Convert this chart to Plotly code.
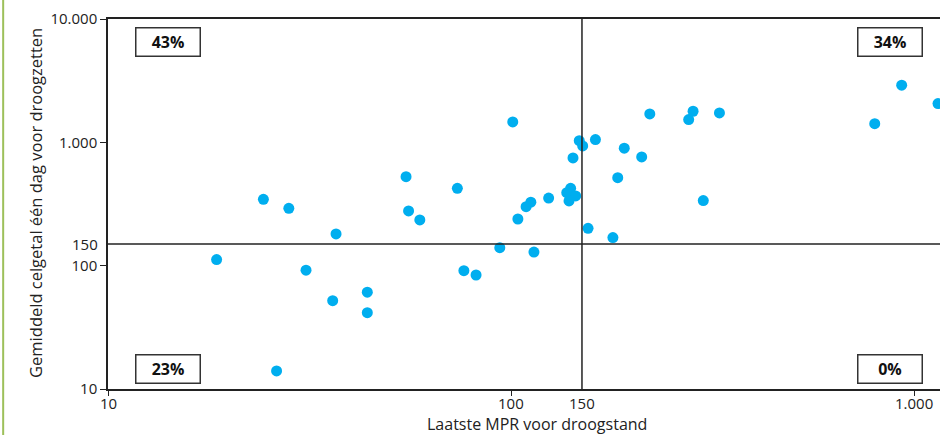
import math
import plotly.graph_objects as go

# Laatste MPR voor droogstand (x) and gemiddeld celgetal één dag voor droogzetten (y)
mpr = [18.6, 24.3, 26.2, 28.1, 31.0, 36.1, 36.8, 44.0, 44.0, 54.9,
       55.7, 59.4, 73.6, 76.4, 81.9, 93.8, 101, 104, 109, 112,
       114, 124, 140.6, 137.5, 144.7, 139.3, 142.5, 147.7, 150.6, 155.3,
       162, 179, 184, 191, 211, 221, 276, 283, 300, 329,
       799, 932, 1147]
celgetal = [112, 345, 14, 292, 92, 52, 181, 61, 41.6, 527,
            278, 235, 424, 91, 84, 140, 1464, 239, 301, 327,
            129, 353, 424, 391, 368, 335, 747, 1032, 935, 201,
            1052, 169, 517, 896, 761, 1700, 1528, 1787, 337, 1732,
            1418, 2905, 2060]

x_tickvals = [10, 100, 150, 1000]
x_ticktext = ["10", "100", "150", "1.000"]
x_tickmarks = [10, 100, 1000]
y_tickvals = [10, 100, 1000, 10000]
y_ticktext = ["10", "100", "1.000", "10.000"]
threshold = 150
quadrant_labels = ["43%", "34%", "23%", "0%"]

FONT = "Open Sans"
TXT = "#222222"
TICKSIZE = 15

fig = go.Figure()
fig.add_trace(go.Scatter(
    x=mpr, y=celgetal, mode="markers",
    marker=dict(color="#00AEEF", size=11, line=dict(width=0)),
    showlegend=False, cliponaxis=False, hoverinfo="x+y"))

fig.update_layout(
    width=940, height=435, autosize=False,
    margin=dict(l=108, r=0, t=19, b=46),
    paper_bgcolor="white", plot_bgcolor="white",
    font=dict(family=FONT, size=TICKSIZE, color=TXT),
    xaxis=dict(type="log", range=[1, 3.0645], tickvals=x_tickmarks, showticklabels=False,
               ticks="outside", ticklen=5, tickwidth=1.2, tickcolor="#222",
               showline=True, linecolor="#222", linewidth=1.5, mirror=True,
               showgrid=False, zeroline=False),
    yaxis=dict(type="log", range=[1, 4], tickvals=y_tickvals, ticktext=y_ticktext,
               ticks="outside", ticklen=6, tickwidth=1.2, tickcolor="#222",
               showline=True, linecolor="#222", linewidth=1.5,
               showgrid=False, zeroline=False, tickfont=dict(size=TICKSIZE, color=TXT)),
)

# x tick labels (annotations on log axis use log10 positions)
for v, t in zip(x_tickvals, x_ticktext):
    fig.add_annotation(text=t, xref="x", x=math.log10(v), yref="paper", y=0,
                       xanchor="center", yanchor="top", yshift=-2,
                       showarrow=False, font=dict(size=TICKSIZE, color=TXT))

# quadrant lines at 150
fig.add_shape(type="line", xref="paper", x0=0, x1=1, yref="y", y0=threshold, y1=threshold,
              line=dict(color="#222", width=1.5))
fig.add_shape(type="line", xref="x", x0=threshold, x1=threshold, yref="paper", y0=0, y1=1,
              line=dict(color="#222", width=1.5))

# green bar at far left
fig.add_shape(type="line", xref="paper", x0=-0.126, x1=-0.126, yref="paper", y0=-0.13, y1=1.06,
              line=dict(color="#9DC05A", width=2))

# y 150 label (no tick mark)
fig.add_annotation(text="150", xref="paper", x=0, yref="y", y=math.log10(threshold),
                   xanchor="right", yanchor="middle", xshift=-8,
                   showarrow=False, font=dict(size=TICKSIZE, color=TXT))

# quadrant percentage boxes
pos = [(0.0721, 0.939), (0.940, 0.939), (0.0721, 0.0554), (0.940, 0.0554)]
for lab, (px, py) in zip(quadrant_labels, pos):
    fig.add_annotation(text="<b>%s</b>" % lab, xref="paper", yref="paper", x=px, y=py,
                       xanchor="center", yanchor="middle", showarrow=False,
                       width=60, height=24, borderpad=1.5,
                       bordercolor="#333", borderwidth=1.5, bgcolor="white",
                       font=dict(size=16, color="#111"))

# axis titles
fig.add_annotation(text="Laatste MPR voor droogstand", xref="paper", yref="paper",
                   x=0.5156, y=-0.0946, xanchor="center", yanchor="middle",
                   showarrow=False, font=dict(size=16, color=TXT))
fig.add_annotation(text="Gemiddeld celgetal één dag voor droogzetten", xref="paper", yref="paper",
                   x=-0.0865, y=0.503, xanchor="center", yanchor="middle", textangle=-90,
                   showarrow=False, font=dict(size=16.5, color=TXT))

fig.write_html("out.html", config={"displayModeBar": False},
               post_script="document.body.style.margin='0';document.body.style.overflow='hidden';")
